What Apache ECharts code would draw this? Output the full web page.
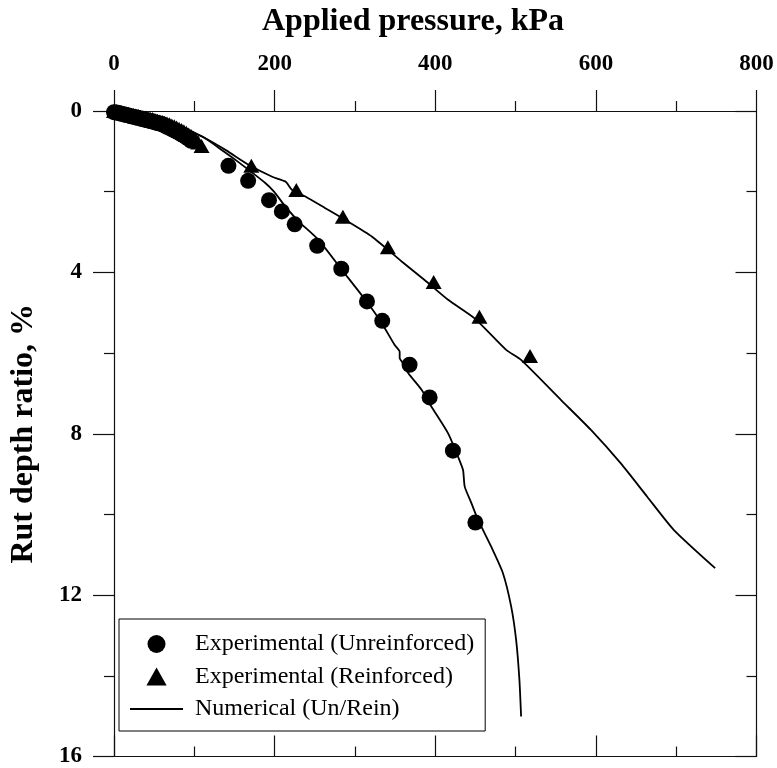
<!DOCTYPE html>
<html><head><meta charset="utf-8">
<script src="https://cdn.jsdelivr.net/npm/echarts@6/dist/echarts.min.js"></script>
<style>html,body{margin:0;padding:0;background:#fff}#c{width:777px;height:768px}</style>
</head><body><div id="c"></div>
<script>
const xTickValues = [0, 200, 400, 600, 800];
const yTickValues = [0, 4, 8, 12, 16];

const unreinExpX = [0, 3, 6, 9, 12, 15, 18, 21, 24, 27, 30, 33, 36, 39, 42, 45, 48, 51, 54, 57, 60, 63, 66, 69, 72, 75, 78, 81, 84, 87, 90, 93, 96,
  142.5, 167, 193, 209, 225, 253, 283, 315, 334, 368, 393, 422, 450];
const unreinExpY = [0.03, 0.04, 0.05, 0.07, 0.08, 0.10, 0.11, 0.13, 0.14, 0.16, 0.17, 0.19, 0.20, 0.22, 0.23, 0.25, 0.26, 0.28, 0.30, 0.31, 0.33, 0.36, 0.39, 0.42, 0.45, 0.48, 0.51, 0.54, 0.58, 0.61, 0.65, 0.69, 0.74,
  1.36, 1.73, 2.21, 2.49, 2.81, 3.34, 3.91, 4.72, 5.20, 6.29, 7.10, 8.42, 10.20];

const reinExpX = [0, 3, 6, 9, 12, 15, 18, 21, 24, 27, 30, 33, 36, 39, 42, 45, 48, 51, 54, 57, 60, 63, 66, 69, 72, 75, 78, 81, 84, 87, 90, 93, 96, 99, 102, 105, 109,
  171, 227, 285, 341, 398, 455, 518];
const reinExpY = [0, 0.01, 0.03, 0.04, 0.05, 0.06, 0.07, 0.09, 0.10, 0.11, 0.12, 0.14, 0.15, 0.16, 0.18, 0.19, 0.20, 0.22, 0.24, 0.26, 0.27, 0.29, 0.31, 0.33, 0.36, 0.38, 0.41, 0.44, 0.47, 0.50, 0.54, 0.58, 0.62, 0.67, 0.72, 0.78, 0.87,
  1.36, 1.96, 2.62, 3.38, 4.24, 5.10, 6.07];

const numUnX = [0, 48.3, 79.3, 110.3, 137.2, 155.8, 188.7, 199.2, 213.5, 230.1, 254.9, 283.8, 314.8, 333.4, 349.5, 355.7, 355.7, 360.6, 366.5, 383.0, 395.3, 416.0, 428.4, 434.6, 436.7, 445.0, 453.2, 469.7, 484.2, 494.5, 500.7, 504.8, 506.9];
const numUnY = [0, 0.20, 0.40, 0.64, 1.01, 1.28, 1.79, 2.00, 2.37, 2.74, 3.20, 3.94, 4.73, 5.26, 5.80, 5.97, 6.12, 6.27, 6.50, 6.91, 7.33, 7.99, 8.57, 8.90, 9.31, 9.72, 10.13, 10.80, 11.45, 12.28, 13.11, 14.10, 15.01];

const numReX = [0, 48.3, 79.3, 110.3, 139.2, 168.2, 197, 213.5, 221.8, 238.3, 263.1, 287.9, 321, 358.2, 386.7, 416, 449, 488.3, 506.9, 556.4, 593.6, 630.8, 663.9, 696.9, 748.5];
const numReY = [0, 0.17, 0.35, 0.64, 0.97, 1.34, 1.63, 1.75, 1.96, 2.12, 2.41, 2.70, 3.11, 3.73, 4.19, 4.68, 5.14, 5.92, 6.17, 7.16, 7.90, 8.73, 9.56, 10.38, 11.33];

const seriesNames = ['Experimental (Unreinforced)', 'Experimental (Reinforced)', 'Numerical (Un/Rein)'];
const xTitle = 'Applied pressure, kPa';
const yTitle = 'Rut depth ratio, %';

const zip = (a, b) => a.map((v, i) => [v, b[i]]);
const FONT = 'Liberation Serif';

const xMin = xTickValues[0], xMax = xTickValues[xTickValues.length - 1], xInt = xTickValues[1] - xTickValues[0];
const yMin = yTickValues[0], yMax = yTickValues[yTickValues.length - 1], yInt = yTickValues[1] - yTickValues[0];

const axisLineStyle = { color: '#111', width: 1.2 };
function xAxisCfg(pos, showLabel, inside) {
  return {
    type: 'value', position: pos, min: xMin, max: xMax, interval: xInt,
    axisLine: { show: true, onZero: false, lineStyle: axisLineStyle },
    axisTick: { show: true, inside: inside, length: 21, lineStyle: axisLineStyle },
    minorTick: { show: true, splitNumber: 2, length: 10, lineStyle: axisLineStyle },
    axisLabel: { show: showLabel, fontFamily: FONT, fontWeight: 'bold', fontSize: 23, color: '#000', margin: 35 },
    splitLine: { show: false }, minorSplitLine: { show: false }
  };
}
function yAxisCfg(pos, showLabel, inside) {
  return {
    type: 'value', position: pos, inverse: true, min: yMin, max: yMax, interval: yInt,
    axisLine: { show: true, onZero: false, lineStyle: axisLineStyle },
    axisTick: { show: true, inside: inside, length: 21, lineStyle: axisLineStyle },
    minorTick: { show: true, splitNumber: 2, length: 10, lineStyle: axisLineStyle },
    axisLabel: { show: showLabel, fontFamily: FONT, fontWeight: 'bold', fontSize: 23, color: '#000', margin: 32 },
    splitLine: { show: false }, minorSplitLine: { show: false }
  };
}

const yLeft = yAxisCfg('left', true, false);
yLeft.name = yTitle;
yLeft.nameLocation = 'middle';
yLeft.nameGap = 74;
yLeft.nameTextStyle = { fontFamily: FONT, fontWeight: 'bold', fontSize: 32, color: '#000' };

const chart = echarts.init(document.getElementById('c'), null, { renderer: 'canvas' });
chart.setOption({
  backgroundColor: '#fff',
  animation: false,
  title: {
    text: xTitle, left: 262, top: 6, padding: 0,
    textStyle: { fontFamily: FONT, fontWeight: 'bold', fontSize: 32, color: '#000' }
  },
  grid: { left: 111, top: 111, right: 20.5, bottom: 11.3, containLabel: false },
  xAxis: [xAxisCfg('top', true, false), xAxisCfg('bottom', false, true)],
  yAxis: [yLeft, yAxisCfg('right', false, true)],
  legend: {
    orient: 'vertical', left: 119, top: 619,
    itemWidth: 53, itemHeight: 18, itemGap: 8.5,
    padding: [13, 11, 10, 11],
    symbolKeepAspect: true,
    borderColor: '#000', borderWidth: 1, backgroundColor: '#fff',
    textStyle: { fontFamily: FONT, fontSize: 24, color: '#000', padding: [0, 0, 0, 7] },
    selectedMode: false,
    data: [
      { name: seriesNames[0], icon: 'circle' },
      { name: seriesNames[1], icon: 'path://M9,0L18,16L0,16Z' },
      { name: seriesNames[2], icon: 'path://M0,0H100V4H0Z' }
    ]
  },
  series: [
    { name: seriesNames[2], type: 'line', data: zip(numUnX, numUnY), symbol: 'none', smooth: 0.2,
      lineStyle: { color: '#000', width: 1.8 }, itemStyle: { color: '#000' }, z: 2 },
    { name: seriesNames[2], type: 'line', data: zip(numReX, numReY), symbol: 'none', smooth: 0.2,
      lineStyle: { color: '#000', width: 1.8 }, itemStyle: { color: '#000' }, z: 2 },
    { name: seriesNames[0], type: 'scatter', data: zip(unreinExpX, unreinExpY), symbol: 'circle', symbolSize: 16,
      itemStyle: { color: '#000', opacity: 1 }, z: 3 },
    { name: seriesNames[1], type: 'scatter', data: zip(reinExpX, reinExpY), symbol: 'triangle', symbolSize: [16, 14],
      itemStyle: { color: '#000', opacity: 1 }, z: 3 }
  ]
});
</script>
</body></html>
